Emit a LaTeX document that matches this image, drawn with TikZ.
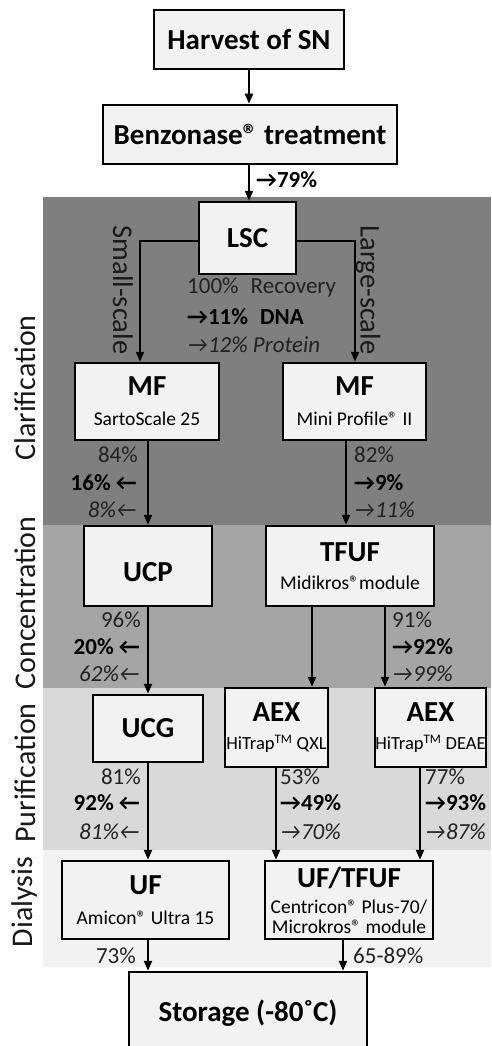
\documentclass[tikz,border=0pt]{standalone}
\usepackage{fontspec}
\setmainfont{Carlito}
\usetikzlibrary{arrows.meta}
\definecolor{bandA}{HTML}{7F7F7F}
\definecolor{bandB}{HTML}{A5A5A5}
\definecolor{bandC}{HTML}{D9D9D9}
\definecolor{bandD}{HTML}{F2F2F2}
\definecolor{boxfill}{HTML}{F2F2F2}
\definecolor{txtgray}{HTML}{222222}
\newcommand\ttl[1]{{\fontsize{29}{30}\selectfont\bfseries #1}}
\begin{document}
\begin{tikzpicture}[x=1pt,y=-1pt,
  box/.style={draw=black,line width=2.5pt,fill=boxfill,inner sep=0pt,align=center,
    font=\fontsize{19.5}{30}\selectfont},
  bigbox/.style={box,font=\fontsize{29}{30}\selectfont\bfseries},
  arr/.style={line width=2pt,-{Triangle[length=10pt,width=8pt]}},
  pct/.style={inner sep=0pt,text=txtgray,font=\fontsize{23}{26}\selectfont},
  pctb/.style={inner sep=0pt,text=black,font=\fontsize{23}{26}\selectfont\bfseries},
  pcti/.style={inner sep=0pt,text=txtgray,font=\fontsize{23}{26}\selectfont\itshape},
  side/.style={inner sep=0pt,text=black!90,font=\fontsize{30}{32}\selectfont},
  scalelbl/.style={inner sep=0pt,text=black!90,font=\fontsize{28.5}{30}\selectfont,rotate=-90}]
\useasboundingbox (0,0) rectangle (491,1046);
\clip (0,0) rectangle (491,1046);
% bands
\fill[bandA] (43,197) rectangle (491,525);
\fill[bandB] (43,525) rectangle (491,688);
\fill[bandC] (43,688) rectangle (491,850);
\fill[bandD] (43,850) rectangle (491,967);
% side labels
\node[side,rotate=90] (lclar) at (25,388) {Clarification};
\node[side,rotate=90] (lconc) at (25,603) {Concentration};
\node[side,rotate=90] (lpuri) at (25,773) {Purification};
\node[side,rotate=90] (ldial) at (25,902) {Dialysis};
% boxes
\node[bigbox,minimum width=190pt,minimum height=59pt] (harvest) at (249,39.5) {Harvest of SN};
\node[bigbox,minimum width=294pt,minimum height=59pt] (benzo) at (250,134.5) {Benzonase® treatment};
\node[bigbox,minimum width=97pt,minimum height=72pt] (lsc) at (247.5,238) {LSC};
\node[box,minimum width=144pt,minimum height=77pt] (mfL) at (147,401.5) {\ttl{MF}\\SartoScale 25};
\node[box,minimum width=143pt,minimum height=77pt] (mfR) at (354.5,401.5) {\ttl{MF}\\Mini Profile® II};
\node[bigbox,minimum width=128pt,minimum height=80pt] (ucp) at (148,566) {\raisebox{-6pt}[\height][\depth]{UCP}};
\node[box,minimum width=168pt,minimum height=80pt] (tfuf) at (350,566) {\ttl{TFUF}\\[-2pt]Midikros®module};
\node[bigbox,minimum width=110pt,minimum height=67pt] (ucg) at (148,728.5) {UCG};
\node[box,minimum width=103pt,minimum height=79pt,font=\fontsize{18.5}{30}\selectfont] (aexQ) at (276.5,727.5) {\ttl{AEX}\\[-2pt]HiTrap\textsuperscript{TM} QXL};
\node[box,minimum width=111pt,minimum height=79pt,font=\fontsize{18.5}{30}\selectfont] (aexD) at (430.5,727.5) {\ttl{AEX}\\[-2pt]HiTrap\textsuperscript{TM} DEAE};
\node[box,minimum width=167pt,minimum height=78pt] (uf) at (145.5,900) {\ttl{UF}\\Amicon® Ultra 15};
\node[box,minimum width=168pt,minimum height=78pt] (uftf) at (349,900) {\ttl{UF/TFUF}\\[-4pt]Centricon® Plus-70/\\[-10pt]Microkros® module};
\node[bigbox,minimum width=238pt,minimum height=82pt] (storage) at (248,1013) {Storage (-80˚C)};
% connectors
\draw[arr] (harvest.south) -- (harvest.south |- benzo.north);
\draw[arr] (benzo.south -| harvest.south) -- (harvest.south |- lsc.north);
\draw[arr] (lsc.west |- 0,241) -| (mfL.north -| 140,0);
\draw[arr] (lsc.east |- 0,241) -| (mfR.north -| 355,0);
\draw[arr] (mfL.south -| 148,0) -- (ucp.north -| 148,0);
\draw[arr] (mfR.south -| 346,0) -- (tfuf.north -| 346,0);
\draw[arr] (ucp.south -| 148,0) -- (ucg.north -| 148,0);
\draw[arr] (tfuf.south -| 312,0) -- (aexQ.north -| 312,0);
\draw[arr] (tfuf.south -| 385,0) -- (aexD.north -| 385,0);
\draw[arr] (ucg.south -| 148,0) -- (uf.north -| 148,0);
\draw[arr] (aexQ.south -| 276,0) -- (uftf.north -| 276,0);
\draw[arr] (aexD.south -| 420,0) -- (uftf.north -| 420,0);
\draw[arr] (uf.south -| 148,0) -- (storage.north -| 148,0);
\draw[arr] (uftf.south -| 343,0) -- (storage.north -| 343,0);
% scale labels
\node[scalelbl] (small) at (123,290) {Small-scale};
\node[scalelbl] (large) at (368,290) {Large-scale};
% percentages
\node[pctb,anchor=west] (p79) at (256,180) {→79\%};
\node[pct,anchor=west] (lscA) at (187,288) {100\%\hspace{.3em} Recovery};
\node[pctb,anchor=west] (lscB) at (187,317) {→11\%\hspace{.3em} DNA};
\node[pcti,anchor=west] (lscC) at (187,345) {→12\% Protein};
\node[pct,anchor=east] (mfLA) at (138,455) {84\%};
\node[pctb,anchor=east] (mfLB) at (137,483) {16\% ←};
\node[pcti,anchor=east] (mfLC) at (137,510) {8\%←};
\node[pct,anchor=west] (mfRA) at (354,455) {82\%};
\node[pctb,anchor=west] (mfRB) at (354,483) {→9\%};
\node[pcti,anchor=west] (mfRC) at (354,510) {→11\%};
\node[pct,anchor=east] (ucpA) at (141,620) {96\%};
\node[pctb,anchor=east] (ucpB) at (140,647) {20\% ←};
\node[pcti,anchor=east] (ucpC) at (140,674) {62\%←};
\node[pct,anchor=west] (tfA) at (392,620) {91\%};
\node[pctb,anchor=west] (tfB) at (392,647) {→92\%};
\node[pcti,anchor=west] (tfC) at (392,674) {→99\%};
\node[pct,anchor=east] (ucgA) at (141,777) {81\%};
\node[pctb,anchor=east] (ucgB) at (140,803) {92\% ←};
\node[pcti,anchor=east] (ucgC) at (140,832) {81\%←};
\node[pct,anchor=west] (aqA) at (280,777) {53\%};
\node[pctb,anchor=west] (aqB) at (280,803) {→49\%};
\node[pcti,anchor=west] (aqC) at (280,832) {→70\%};
\node[pct,anchor=west] (adA) at (425,777) {77\%};
\node[pctb,anchor=west] (adB) at (425,803) {→93\%};
\node[pcti,anchor=west] (adC) at (425,832) {→87\%};
\node[pct,anchor=east] (ufA) at (136,956) {73\%};
\node[pct,anchor=west] (uftfA) at (353,956) {65-89\%};
\end{tikzpicture}
\end{document}
